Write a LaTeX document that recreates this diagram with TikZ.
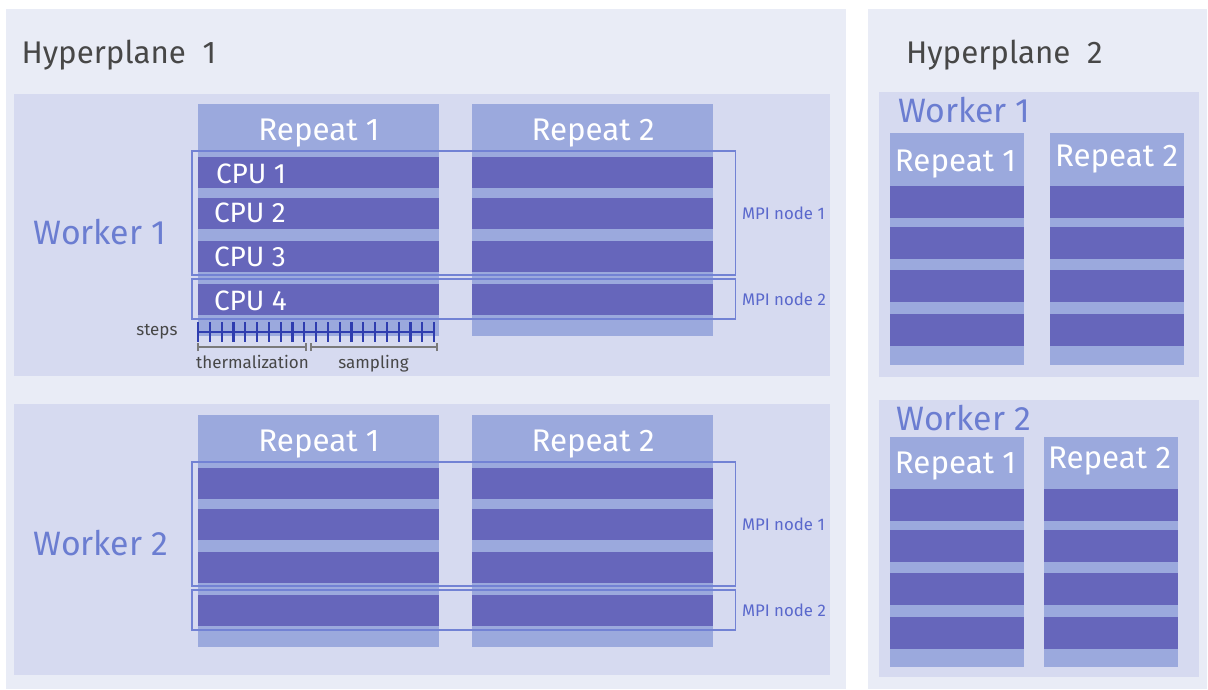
\documentclass[tikz,border=0pt]{standalone}
\usepackage{fontspec}
\setmainfont{Fira Sans}
\definecolor{panelc}{HTML}{E9ECF6}
\definecolor{workerc}{HTML}{D6DAF0}
\definecolor{colc}{HTML}{9BA9DD}
\definecolor{barc}{HTML}{6666BB}
\definecolor{mpic}{HTML}{7282D4}
\definecolor{mpitext}{HTML}{5A68CC}
\definecolor{wtext}{HTML}{6B7DD1}
\definecolor{graytext}{HTML}{474747}
\definecolor{tickc}{HTML}{2F3DAF}
\definecolor{brkc}{HTML}{7A7A7A}
\tikzset{
  panelbox/.style={fill=panelc},
  workerbox/.style={fill=workerc},
  colbox/.style={fill=colc},
  barbox/.style={fill=barc},
  mpibox/.style={draw=mpic, line width=1.5pt},
  txt/.style={inner sep=0pt, outer sep=0pt},
  hyper/.style={txt, font=\fontsize{31.3}{36}\selectfont, text=graytext, anchor=base west},
  worker/.style={txt, font=\fontsize{33.8}{40}\selectfont, text=wtext, anchor=base west},
  repeatlbl/.style={txt, font=\fontsize{31.3}{36}\selectfont, text=white, anchor=base},
  cpulbl/.style={txt, font=\fontsize{28}{34}\selectfont, text=white, anchor=base west},
  mpilbl/.style={txt, font=\fontsize{16.8}{20}\selectfont, text=mpitext, anchor=base west},
  small/.style={txt, font=\fontsize{17}{20}\selectfont, text=graytext},
  tickline/.style={draw=tickc, line width=2.2pt},
  brkline/.style={draw=brkc, line width=2pt}
}
\begin{document}
\begin{tikzpicture}[x=1pt,y=-1pt]
\useasboundingbox (0,0) rectangle (1208,689);
\fill[white] (0,0) rectangle (1208,689);
% panels
\fill[panelbox] (6,9) rectangle (846,689);
\fill[panelbox] (868,9) rectangle (1207,689);
\node[hyper] (h1) at (21.5,63.3) {Hyperplane\ \ 1};
\node[hyper] (h2) at (906,63.3) {Hyperplane\ \ 2};
% ---------- Hyperplane 1 ----------
\fill[workerbox] (14,94) rectangle (830,376);
\fill[workerbox] (14,404) rectangle (830,675);
\foreach \off/\w in {0/1,311/2}{
  \fill[colbox] (198,104+\off) rectangle (439,335.5+\off);
  \fill[colbox] (472,104+\off) rectangle (713,335.5+\off);
  \foreach \a/\b in {157/188,198/229,241/272,284/315}{
    \fill[barbox] (198,\a+\off) rectangle (439,\b+\off);
    \fill[barbox] (472,\a+\off) rectangle (713,\b+\off);
  }
  \node[repeatlbl] (r1h1w\w) at (319,140+\off) {Repeat 1};
  \node[repeatlbl] (r2h1w\w) at (593,140+\off) {Repeat 2};
  \draw[mpibox] (192,151+\off) rectangle (735.5,275+\off);
  \draw[mpibox] (192,279+\off) rectangle (735.5,319+\off);
  \node[mpilbl] (mpa\w) at (742,219.5+\off) {MPI node 1};
  \node[mpilbl] (mpb\w) at (742,305+\off) {MPI node 2};
  \node[worker] (wh1\w) at (33.5,244+\off) {Worker \w};
}
\node[cpulbl] (cpu1) at (216,183.3) {CPU 1};
\node[cpulbl] (cpu2) at (214,222.8) {CPU 2};
\node[cpulbl] (cpu3) at (214,266) {CPU 3};
\node[cpulbl] (cpu4) at (214,310) {CPU 4};
% steps scale
\coordinate (s0) at (198,332);
\coordinate (s1) at (434,332);
\draw[tickline] (s0) -- (s1);
\foreach \i in {0,...,20}{
  \draw[tickline] (198+\i*11.8,322) -- (198+\i*11.8,342);
}
\node[small, anchor=base east] (steps) at (177.5,335.5) {steps};
\coordinate (t0) at (197.5,347);
\coordinate (t1) at (305.5,347);
\coordinate (u0) at (311,347);
\coordinate (u1) at (437,347);
\draw[brkline] (t0) -- (t1);
\draw[brkline] ([yshift=-4pt]t0) -- ([yshift=4pt]t0);
\draw[brkline] ([yshift=-4pt]t1) -- ([yshift=4pt]t1);
\draw[brkline] (u0) -- (u1);
\draw[brkline] ([yshift=-4pt]u0) -- ([yshift=4pt]u0);
\draw[brkline] ([yshift=-4pt]u1) -- ([yshift=4pt]u1);
\node[small, anchor=base] (therm) at (252.5,368.5) {thermalization};
\node[small, anchor=base] (samp) at (373.5,368.5) {sampling};
% ---------- Hyperplane 2 ----------
\fill[workerbox] (879,92) rectangle (1199,377);
\fill[workerbox] (879,400) rectangle (1199,677);
% worker 1
\fill[colbox] (890,133) rectangle (1024,365);
\fill[colbox] (1050,133) rectangle (1184,365);
\foreach \a/\b in {186/218,227/259,270/302,314/346}{
  \fill[barbox] (890,\a) rectangle (1024,\b);
  \fill[barbox] (1050,\a) rectangle (1184,\b);
}
\node[worker] (wh21) at (898,122.7) {Worker 1};
\node[repeatlbl] (r1h2w1) at (955.5,171.7) {Repeat 1};
\node[repeatlbl] (r2h2w1) at (1116.5,166) {Repeat 2};
% worker 2
\fill[colbox] (890,437) rectangle (1024,667);
\fill[colbox] (1044,437) rectangle (1178,667);
\foreach \a/\b in {489/521,530/562,573/605,617/649}{
  \fill[barbox] (890,\a) rectangle (1024,\b);
  \fill[barbox] (1044,\a) rectangle (1178,\b);
}
\node[worker] (wh22) at (896.5,430) {Worker 2};
\node[repeatlbl] (r1h2w2) at (955.5,473.3) {Repeat 1};
\node[repeatlbl] (r2h2w2) at (1109.5,468) {Repeat 2};
\end{tikzpicture}
\end{document}
